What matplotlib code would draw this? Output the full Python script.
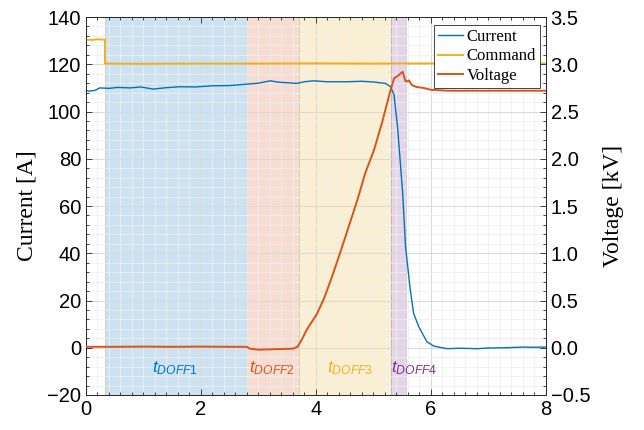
import matplotlib
matplotlib.use("Agg")
import matplotlib.pyplot as plt
from matplotlib.ticker import MultipleLocator

plt.rcParams['mathtext.fontset'] = 'custom'
plt.rcParams['mathtext.it'] = 'Liberation Sans:italic'
plt.rcParams['mathtext.rm'] = 'Liberation Sans'

# MATLAB default colour order
c_blue = '#0072BD'
c_red = '#D95319'
c_yel = '#EDB120'
c_pur = '#7E2F8E'

# time [s]
t_cur = [0.00, 0.05, 0.15, 0.24, 0.40, 0.55, 0.77, 0.95, 1.17, 1.40, 1.64, 1.90,
         2.21, 2.50, 2.80, 3.00, 3.21, 3.35, 3.50, 3.67, 3.80, 3.96, 4.20, 4.54,
         4.80, 5.00, 5.21, 5.30, 5.36, 5.42, 5.47, 5.51, 5.56, 5.64, 5.70, 5.79,
         5.93, 6.05, 6.28, 6.50, 6.80, 7.00, 7.30, 7.60, 7.80, 8.00]
current = [109.0, 108.6, 108.9, 110.0, 109.8, 110.2, 110.0, 110.4, 109.5, 110.1, 110.5, 110.4,
           110.9, 111.0, 111.6, 112.0, 113.0, 112.4, 112.2, 111.9, 112.6, 113.0, 112.6, 112.6,
           112.8, 112.5, 111.9, 110.5, 107.0, 93.6, 78.0, 65.4, 42.8, 25.0, 14.6, 8.9,
           2.6, 0.7, -0.4, -0.2, -0.4, -0.1, 0.0, 0.3, 0.2, 0.3]

t_cmd = [0.00, 0.10, 0.20, 0.33, 0.33, 1.00, 2.00, 3.00, 4.00, 5.00, 6.00, 7.00, 8.00]
command = [130.5, 130.3, 130.6, 130.4, 120.3, 120.2, 120.3, 120.3, 120.4, 120.3, 120.4, 120.3, 120.3]

t_volt = [0.00, 0.50, 1.00, 1.50, 2.00, 2.50, 2.80, 2.85, 3.00, 3.30, 3.60, 3.68,
          3.75, 3.84, 4.02, 4.14, 4.28, 4.43, 4.57, 4.72, 4.86, 5.01, 5.15, 5.24,
          5.30, 5.36, 5.45, 5.51, 5.56, 5.59, 5.62, 5.67, 5.75, 5.87, 6.00, 6.30,
          7.00, 7.50, 8.00]
voltage = [0.01, 0.01, 0.012, 0.01, 0.012, 0.01, 0.01, -0.01, -0.02, -0.015, -0.01, 0.01,
           0.08, 0.19, 0.36, 0.52, 0.75, 1.02, 1.28, 1.56, 1.85, 2.09, 2.38, 2.59,
           2.73, 2.85, 2.89, 2.92, 2.82, 2.82, 2.83, 2.78, 2.76, 2.75, 2.73, 2.72,
           2.72, 2.72, 2.72]

# turn-off intervals
phase_edges = [0.33, 2.80, 3.70, 5.31, 5.57]
phase_cols = [c_blue, c_red, c_yel, c_pur]
phase_names = ['DOFF1', 'DOFF2', 'DOFF3', 'DOFF4']
label_x = [1.15, 2.84, 4.20, 5.31]

fig = plt.figure(figsize=(6.44, 4.30), dpi=100)
ax = fig.add_axes([0.1335, 0.0814, 0.714, 0.879])
ax2 = ax.twinx()

for i in range(4):
    ax.axvspan(phase_edges[i], phase_edges[i + 1], facecolor=phase_cols[i], alpha=0.2,
               edgecolor='none', zorder=0)
    ax.axvline(phase_edges[i + 1], color='#999999', lw=0.6, alpha=0.5, zorder=0)
    ax.text(label_x[i], -10.5, r'$t_{\mathit{' + phase_names[i] + '}}$', color=phase_cols[i],
            fontsize=12.5, ha='left', va='baseline', zorder=5)
ax.axvline(phase_edges[0], color='#bbbbbb', lw=0.6, alpha=0.5, zorder=0)

l1, = ax.plot(t_cur, current, color=c_blue, lw=1.0, zorder=3, label='Current')
l2, = ax.plot(t_cmd, command, color=c_yel, lw=1.4, zorder=3, label='Command')
l3, = ax2.plot(t_volt, voltage, color=c_red, lw=1.4, zorder=3, label='Voltage')

ax.set_xlim(0, 8)
ax.set_ylim(-20, 140)
ax2.set_ylim(-0.5, 3.5)
ax.xaxis.set_major_locator(MultipleLocator(2))
ax.xaxis.set_minor_locator(MultipleLocator(0.2))
ax.yaxis.set_major_locator(MultipleLocator(20))
ax.yaxis.set_minor_locator(MultipleLocator(4))
ax2.yaxis.set_major_locator(MultipleLocator(0.5))
ax2.yaxis.set_minor_locator(MultipleLocator(0.1))

ax.grid(which='major', color='#d9d9d9', lw=0.7)
ax.grid(which='minor', color='#efefef', lw=0.6)
ax.set_axisbelow(True)

for a in (ax, ax2):
    a.tick_params(which='both', direction='in', colors='#262626', labelsize=14.5, width=0.6)
    a.tick_params(which='major', length=4)
    a.tick_params(which='minor', length=2)
    for lab in a.get_xticklabels() + a.get_yticklabels():
        lab.set_fontfamily('Liberation Sans')
    for s in a.spines.values():
        s.set_color('#262626')
        s.set_linewidth(0.6)
ax.tick_params(axis='y', which='both', right=False)
ax.tick_params(axis='x', which='both', top=True)
ax2.tick_params(axis='y', labelcolor='black')
ax.tick_params(axis='both', labelcolor='black')

ax.set_ylabel('Current [A]', fontfamily='Liberation Serif', fontsize=17, labelpad=7)
ax2.set_ylabel('Voltage [kV]', fontfamily='Liberation Serif', fontsize=17, labelpad=9)

leg = ax2.legend(handles=[l1, l2, l3], loc='upper right', bbox_to_anchor=(0.988, 0.979),
                 prop={'family': 'Liberation Serif', 'size': 12}, frameon=True,
                 fancybox=False, edgecolor='#262626', framealpha=1,
                 handlelength=1.5, handletextpad=0.2, borderpad=0.25, labelspacing=0.2,
                 borderaxespad=0)
leg.get_frame().set_linewidth(0.6)

fig.savefig('out.png', dpi=100)
